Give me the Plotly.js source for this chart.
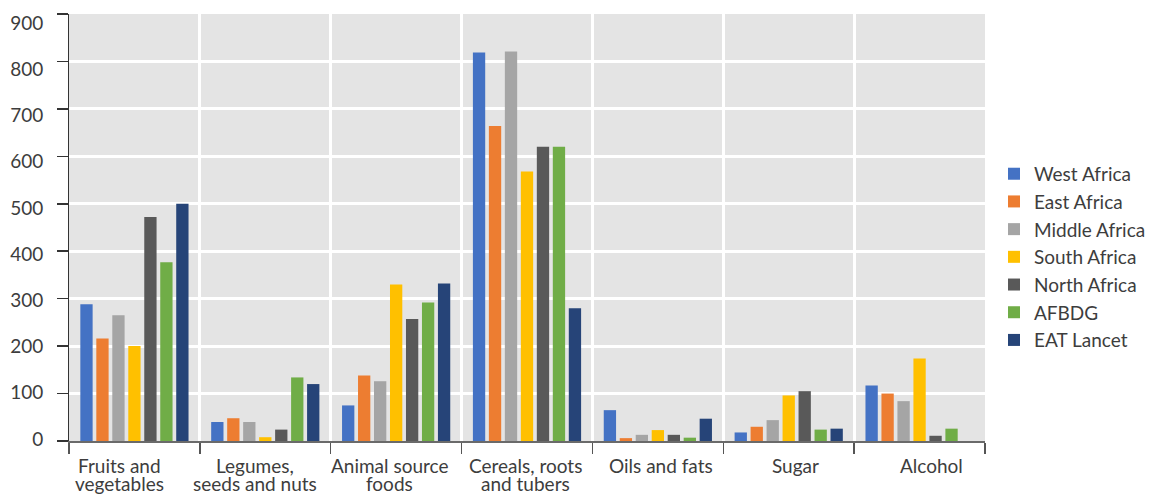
<!DOCTYPE html>
<html>
<head>
<meta charset="utf-8">
<script src="https://cdn.plot.ly/plotly-3.0.1.min.js"></script>
<style>html,body{margin:0;padding:0;background:#fff;}#chart{width:1165px;height:494px;}</style>
</head>
<body>
<div id="chart"></div>
<script>
const categories = ["Fruits and<br>vegetables", "Legumes,<br>seeds and nuts", "Animal source<br>foods", "Cereals, roots<br>and tubers", "Oils and fats", "Sugar", "Alcohol"];
const seriesNames = ["West Africa", "East Africa", "Middle Africa", "South Africa", "North Africa", "AFBDG", "EAT Lancet"];
const westAfrica   = [288, 40, 75, 819, 65, 18, 117];
const eastAfrica   = [216, 48, 138, 664, 6, 30, 100];
const middleAfrica = [265, 40, 126, 821, 13, 44, 84];
const southAfrica  = [200, 8, 330, 568, 23, 96, 174];
const northAfrica  = [472, 24, 257, 620, 13, 105, 11];
const afbdg        = [377, 134, 292, 620, 7, 24, 26];
const eatLancet    = [500, 120, 332, 280, 47, 26, 0];
const yTicks = [0, 100, 200, 300, 400, 500, 600, 700, 800, 900];

const seriesValues = [westAfrica, eastAfrica, middleAfrica, southAfrica, northAfrica, afbdg, eatLancet];
const colors = ["#4472C4", "#ED7D31", "#A5A5A5", "#FFC000", "#595959", "#70AD47", "#264478"];

const traces = seriesNames.map((name, i) => ({
  type: "bar",
  name: name,
  x: categories,
  y: seriesValues[i],
  marker: {color: colors[i], line: {width: 0}},
  hoverinfo: "x+y+name"
}));
// invisible helper trace so the label-only overlay axes (x2/y2) exist
traces.push({
  type: "scatter", mode: "markers", x: [0], y: [0],
  xaxis: "x2", yaxis: "y2",
  marker: {opacity: 0, size: 1}, showlegend: false, hoverinfo: "skip"
});

const fam = "Lato, 'Noto Sans', sans-serif";
const font = {family: fam, size: 19, color: "#3d3d3d"};

// category labels drawn line by line (tighter line spacing than tick labels)
const annotations = [];
categories.forEach((cat, i) => {
  cat.split("<br>").forEach((line, j) => {
    annotations.push({
      x: i, xref: "x2", y: 0, yref: "paper",
      text: line, showarrow: false,
      xanchor: "center", yanchor: "middle",
      yshift: -24.5 - 17.5 * j,
      font: font
    });
  });
});

const layout = {
  width: 1165,
  height: 494,
  margin: {l: 69, r: 180, t: 14, b: 53},
  paper_bgcolor: "#ffffff",
  plot_bgcolor: "#e4e4e4",
  font: font,
  barmode: "group",
  bargap: 0.145,
  bargroupgap: 0.23,
  showlegend: true,
  legend: {
    xref: "container", yref: "container",
    x: 0.8532, xanchor: "left", y: 0.48, yanchor: "middle",
    font: {family: fam, size: 19, color: "#3d3d3d"},
    itemwidth: 30, tracegroupgap: 0, bgcolor: "rgba(0,0,0,0)"
  },
  annotations: annotations,
  xaxis: {
    type: "category",
    tickson: "boundaries",
    showticklabels: false,
    showgrid: true, gridcolor: "#ffffff", gridwidth: 3,
    ticks: "outside", ticklen: 11, tickwidth: 1.5, tickcolor: "#555555",
    showline: true, linecolor: "#6a6a6a", linewidth: 2,
    zeroline: false
  },
  yaxis: {
    range: [0, 900],
    tickvals: yTicks,
    showticklabels: false,
    showgrid: true, gridcolor: "#ffffff", gridwidth: 3,
    ticks: "outside", ticklen: 11, tickwidth: 1.5, tickcolor: "#333333",
    showline: true, linecolor: "#333333", linewidth: 1.5,
    zeroline: false
  },
  // label-only overlay axes reproducing the reference's slightly offset label placement
  xaxis2: {
    overlaying: "x", anchor: "y2", type: "linear",
    range: [-0.3718, 6.398], visible: false
  },
  yaxis2: {
    overlaying: "y", anchor: "x2", side: "left",
    range: [-4.33, 919.5],
    tickvals: yTicks,
    ticktext: yTicks.map(String),
    ticks: "outside", ticklen: 11, tickcolor: "rgba(0,0,0,0)",
    ticklabelstandoff: 10,
    showgrid: false, showline: false, zeroline: false,
    tickfont: font
  }
};

Plotly.newPlot("chart", traces, layout, {displayModeBar: false, staticPlot: true});
</script>
</body>
</html>
